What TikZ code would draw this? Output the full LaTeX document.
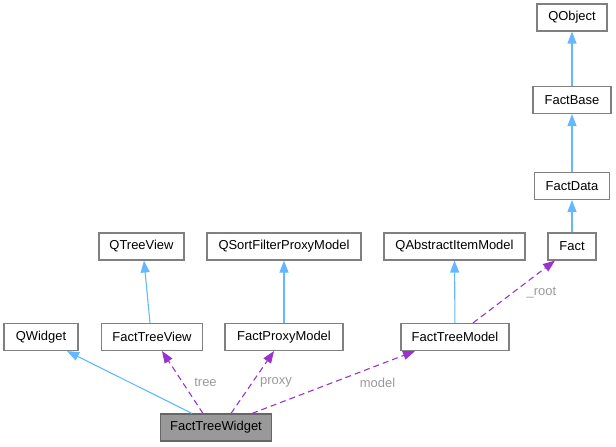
\documentclass[tikz,border=0pt]{standalone}
\usepackage{fontspec}
\setmainfont{Liberation Sans}
\usepackage{tikz}
\usetikzlibrary{arrows.meta}
\definecolor{edgeB}{HTML}{63B8FF}
\definecolor{edgeP}{HTML}{9A32CD}
\definecolor{frame}{HTML}{808080}
\definecolor{focusfill}{HTML}{999999}
\definecolor{lblgray}{HTML}{9A9A9A}

\begin{document}
\begin{tikzpicture}[x=1bp,y=-1bp,font=\fontsize{13}{15}\selectfont,
  cls/.style={draw=frame,line width=1.1bp,fill=white,inner sep=0pt,
    minimum height=27bp,minimum width=#1},
  focus/.style={cls=#1,fill=focusfill,draw=black!60},
  inherit/.style={draw=edgeB,line width=1.1bp,-{Triangle[length=12bp,width=9bp]}},
  member/.style={draw=edgeP,line width=1.1bp,dash pattern=on 6bp off 4bp,
    -{Triangle[length=12bp,width=9bp]}},
  lbl/.style={text=lblgray,inner sep=1bp}]
  \useasboundingbox (0,0) rectangle (616,447);
  % classes
  \node[focus=111bp] (ftwidget) at (216,427.5) {FactTreeWidget};
  \node[cls=74bp] (qwidget) at (41,337) {QWidget};
  \node[cls=101bp] (ftview) at (152,337) {FactTreeView};
  \node[cls=118bp] (fpmodel) at (284,337) {FactProxyModel};
  \node[cls=108bp] (ftmodel) at (455,337) {FactTreeModel};
  \node[cls=85bp] (qtview) at (141.5,246.5) {QTreeView};
  \node[cls=154bp] (qsfpm) at (284,246.5) {QSortFilterProxyModel};
  \node[cls=141bp] (qaim) at (454.5,246.5) {QAbstractItemModel};
  \node[cls=48bp] (fact) at (572,246.5) {Fact};
  \node[cls=75bp] (fdata) at (572,186) {FactData};
  \node[cls=78bp] (fbase) at (572,100) {FactBase};
  \node[cls=70bp] (qobject) at (572,17.5) {QObject};
  % inheritance
  \draw[inherit] ([xshift=-24bp]ftwidget.north) -- ([xshift=26bp]qwidget.south);
  \draw[inherit] ([xshift=-2bp]ftview.north) -- ([xshift=2.5bp]qtview.south);
  \draw[inherit] (fpmodel) -- (qsfpm);
  \draw[inherit] (ftmodel) -- (qaim);
  \draw[inherit] (fact) -- (fdata);
  \draw[inherit] (fdata) -- (fbase);
  \draw[inherit] (fbase) -- (qobject);
  % members
  \draw[member] ([xshift=-13bp]ftwidget.north) -- ([xshift=10bp]ftview.south)
    node[lbl,midway,xshift=23bp] {tree};
  \draw[member] ([xshift=15bp]ftwidget.north) -- ([xshift=-10bp]fpmodel.south)
    node[lbl,midway,xshift=23.5bp] {proxy};
  \draw[member] ([xshift=36bp]ftwidget.north) -- ([xshift=-40bp]ftmodel.south)
    node[lbl,pos=0.77,yshift=-17bp] {model};
  \draw[member] ([xshift=18bp]ftmodel.north) -- ([xshift=-17bp]fact.south)
    node[lbl,pos=0.48,xshift=29bp] {\_root};
\end{tikzpicture}
\end{document}
